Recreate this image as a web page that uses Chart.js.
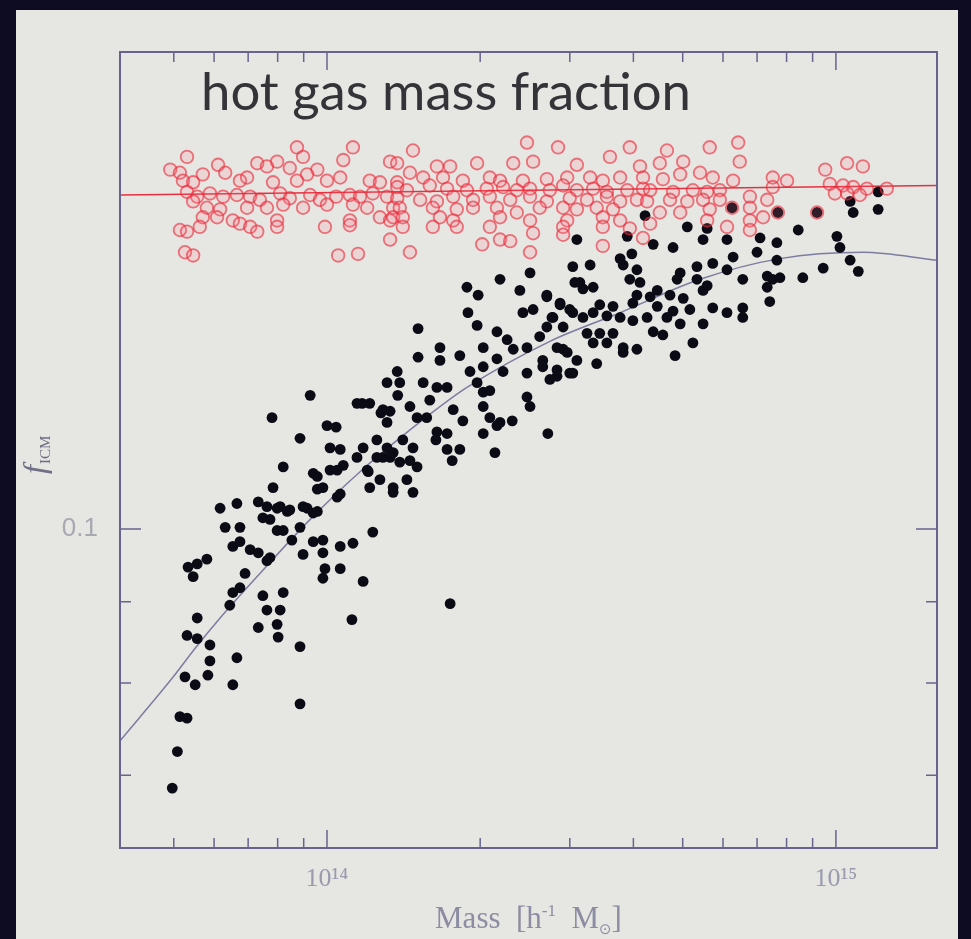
<!DOCTYPE html>
<html>
<head>
<meta charset="utf-8">
<title>hot gas mass fraction</title>
<script src="https://cdn.jsdelivr.net/npm/chart.js@4.4.1/dist/chart.umd.min.js"></script>
<style>
    html, body { margin: 0; padding: 0; background: #0e0c22; }
    #wrap { width: 971px; height: 939px; }
</style>
</head>
<body>
<div id="wrap"><canvas id="chart" width="971" height="939"></canvas></div>
<script>
// values, as [log10 M, log10 f]
var openPoints = [
    [13.725,-0.766],[13.941,-0.760],[14.051,-0.760],[13.692,-0.774],[13.711,-0.776],
    [13.786,-0.771],[13.800,-0.776],[13.863,-0.770],[13.882,-0.772],[13.902,-0.769],
    [13.953,-0.766],[13.927,-0.773],[13.981,-0.774],[14.032,-0.768],[14.124,-0.769],
    [13.717,-0.781],[13.737,-0.782],[13.756,-0.777],[13.829,-0.781],[13.843,-0.779],
    [13.894,-0.782],[13.941,-0.781],[13.961,-0.777],[14.000,-0.781],[14.026,-0.779],
    [14.084,-0.781],[14.104,-0.782],[14.138,-0.782],[13.725,-0.788],[13.745,-0.791],
    [13.770,-0.789],[13.796,-0.791],[13.823,-0.790],[13.849,-0.791],[13.868,-0.793],
    [13.908,-0.789],[13.927,-0.792],[13.967,-0.790],[13.986,-0.793],[14.018,-0.791],
    [14.045,-0.790],[14.065,-0.791],[14.090,-0.789],[14.118,-0.791],[13.737,-0.794],
    [13.764,-0.798],[13.790,-0.799],[13.843,-0.798],[13.882,-0.798],[13.914,-0.796],
    [13.953,-0.798],[14.000,-0.796],[14.051,-0.796],[14.079,-0.798],[14.130,-0.798],
    [13.756,-0.804],[13.784,-0.804],[13.815,-0.806],[13.829,-0.808],[13.902,-0.806],
    [14.045,-0.806],[14.104,-0.804],[14.124,-0.806],[13.711,-0.812],[13.725,-0.813],
    [13.750,-0.810],[13.849,-0.810],[13.863,-0.813],[13.902,-0.810],[13.996,-0.810],
    [14.045,-0.809],[14.124,-0.818],[13.721,-0.826],[13.737,-0.828],[14.022,-0.828],
    [14.061,-0.827],[14.399,-0.826],
    [14.393,-0.757],[14.454,-0.760],[14.595,-0.760],[14.169,-0.762],[14.556,-0.766],
    [14.295,-0.770],[14.366,-0.770],[14.405,-0.769],[14.216,-0.772],[14.242,-0.772],
    [14.491,-0.771],[14.615,-0.772],[14.138,-0.770],[14.163,-0.776],[14.189,-0.779],
    [14.228,-0.779],[14.267,-0.781],[14.320,-0.779],[14.340,-0.781],[14.385,-0.781],
    [14.432,-0.780],[14.472,-0.779],[14.517,-0.779],[14.542,-0.781],[14.576,-0.779],
    [14.138,-0.785],[14.157,-0.787],[14.202,-0.784],[14.236,-0.786],[14.275,-0.787],
    [14.314,-0.786],[14.346,-0.785],[14.373,-0.787],[14.399,-0.786],[14.438,-0.787],
    [14.464,-0.784],[14.491,-0.787],[14.523,-0.786],[14.550,-0.788],[14.590,-0.787],
    [14.621,-0.786],[14.138,-0.792],[14.183,-0.793],[14.216,-0.794],[14.248,-0.791],
    [14.287,-0.793],[14.320,-0.791],[14.360,-0.793],[14.399,-0.791],[14.432,-0.794],
    [14.477,-0.792],[14.511,-0.793],[14.550,-0.791],[14.576,-0.794],[14.609,-0.793],
    [14.143,-0.798],[14.208,-0.798],[14.255,-0.799],[14.287,-0.798],[14.334,-0.798],
    [14.373,-0.801],[14.418,-0.798],[14.464,-0.798],[14.491,-0.799],[14.530,-0.798],
    [14.562,-0.799],[14.130,-0.804],[14.149,-0.804],[14.222,-0.804],[14.248,-0.806],
    [14.340,-0.804],[14.399,-0.806],[14.472,-0.806],[14.542,-0.804],[14.576,-0.806],
    [14.149,-0.810],[14.208,-0.810],[14.255,-0.810],[14.320,-0.810],[14.464,-0.810],
    [14.542,-0.810],[14.595,-0.811],[14.405,-0.814],[14.464,-0.815],[14.340,-0.818],
    [14.305,-0.821],[14.360,-0.819],[14.163,-0.826],[14.542,-0.822],[14.621,-0.817],
    [14.668,-0.762],[14.752,-0.760],[14.808,-0.757],[14.654,-0.770],[14.700,-0.769],
    [14.811,-0.769],[14.979,-0.774],[15.022,-0.770],[15.053,-0.772],[14.621,-0.779],
    [14.660,-0.780],[14.694,-0.777],[14.733,-0.776],[14.758,-0.779],[14.798,-0.781],
    [14.876,-0.779],[14.904,-0.781],[14.635,-0.787],[14.680,-0.788],[14.719,-0.787],
    [14.747,-0.788],[14.772,-0.787],[14.876,-0.785],[14.988,-0.783],[15.014,-0.784],
    [15.034,-0.785],[15.061,-0.786],[15.100,-0.786],[14.629,-0.794],[14.674,-0.793],
    [14.708,-0.794],[14.739,-0.793],[14.772,-0.793],[14.831,-0.791],[14.865,-0.793],
    [14.998,-0.789],[15.022,-0.789],[15.047,-0.790],[14.654,-0.801],[14.694,-0.801],
    [14.752,-0.799],[14.831,-0.798],[14.635,-0.808],[14.747,-0.806],[14.831,-0.806],
    [14.857,-0.804],[14.786,-0.810],[14.831,-0.812],[14.796,-0.798],[14.963,-0.801],
    [14.886,-0.801]
];

var filledPoints = [
    [13.892,-0.930],[13.947,-0.943],[14.000,-0.935],[14.069,-0.921],[14.110,-0.925],
    [13.914,-0.961],[14.006,-0.949],[14.071,-0.949],[14.098,-0.944],[14.110,-0.955],
    [14.130,-0.952],[14.081,-0.964],[13.981,-0.967],[14.006,-0.963],[14.032,-0.960],
    [13.894,-0.974],[13.992,-0.974],[14.084,-0.974],[14.130,-0.977],[13.790,-0.987],
    [13.823,-0.984],[13.865,-0.983],[13.882,-0.986],[13.902,-0.987],[13.922,-0.989],
    [13.961,-0.987],[13.981,-0.989],[14.020,-0.980],[13.874,-0.993],[13.800,-0.999],
    [13.829,-0.999],[13.902,-1.001],[13.914,-1.001],[13.947,-0.999],[13.931,-1.007],
    [13.973,-1.008],[13.992,-1.007],[14.026,-1.011],[14.051,-1.009],[14.090,-1.002],
    [13.815,-1.011],[13.829,-1.008],[13.849,-1.013],[13.865,-1.015],[13.888,-1.018],
    [13.882,-1.020],[13.953,-1.016],[13.992,-1.015],[13.727,-1.024],[13.745,-1.022],
    [13.764,-1.019],[13.737,-1.030],[13.839,-1.028],[13.996,-1.025],[14.026,-1.025],
    [13.992,-1.031],[14.071,-1.033],[13.829,-1.037],[13.815,-1.040],[13.809,-1.048],
    [13.874,-1.042],[13.914,-1.040],[13.882,-1.051],[13.908,-1.051],[13.745,-1.056],
    [13.902,-1.060],[13.865,-1.062],[14.049,-1.057],[13.725,-1.067],[13.745,-1.069],
    [13.770,-1.073],[13.904,-1.068],[13.947,-1.074],[13.770,-1.083],[13.823,-1.081],
    [13.721,-1.093],[13.741,-1.098],[13.766,-1.092],[13.815,-1.098],[13.711,-1.118],
    [13.725,-1.119],[13.947,-1.110],[13.706,-1.140],[13.696,-1.163],[14.242,-1.047],
    [14.340,-0.843],[14.399,-0.839],[14.483,-0.835],[14.275,-0.848],[14.297,-0.853],
    [14.379,-0.850],[14.432,-0.853],[14.458,-0.858],[14.487,-0.845],[14.277,-0.864],
    [14.295,-0.872],[14.385,-0.864],[14.405,-0.862],[14.442,-0.867],[14.477,-0.862],
    [14.179,-0.874],[14.334,-0.876],[14.354,-0.881],[14.307,-0.886],[14.393,-0.886],
    [14.418,-0.879],[14.464,-0.887],[14.222,-0.886],[14.261,-0.891],[14.179,-0.892],
    [14.222,-0.894],[14.334,-0.893],[14.366,-0.887],[14.281,-0.901],[14.307,-0.898],
    [14.346,-0.901],[14.393,-0.902],[14.424,-0.898],[14.452,-0.904],[14.477,-0.902],
    [14.138,-0.901],[14.118,-0.908],[14.143,-0.908],[14.189,-0.908],[14.216,-0.911],
    [14.236,-0.911],[14.295,-0.908],[14.307,-0.914],[14.320,-0.913],[14.393,-0.917],
    [14.399,-0.923],[14.139,-0.916],[14.202,-0.919],[14.059,-0.921],[14.084,-0.921],
    [14.163,-0.923],[14.106,-0.927],[14.124,-0.926],[14.177,-0.930],[14.196,-0.930],
    [14.248,-0.925],[14.267,-0.932],[14.307,-0.923],[14.320,-0.930],[14.340,-0.933],
    [14.364,-0.932],[13.967,-0.916],[14.018,-0.936],[14.118,-0.933],[14.026,-0.950],
    [14.118,-0.949],[14.149,-0.944],[14.169,-0.949],[14.216,-0.939],[14.236,-0.940],
    [14.214,-0.944],[14.236,-0.950],[14.261,-0.950],[14.246,-0.957],[14.307,-0.940],
    [14.334,-0.935],[14.330,-0.952],[14.434,-0.940],[14.059,-0.955],[14.098,-0.955],
    [14.124,-0.955],[14.143,-0.958],[14.163,-0.957],[14.177,-0.961],[13.973,-0.965],
    [14.020,-0.963],[14.079,-0.963],[14.104,-0.969],[14.130,-0.974],[14.157,-0.969],
    [14.169,-0.977],[13.981,-0.975],[14.026,-0.978],[13.908,-0.986],[13.927,-0.988],
    [13.953,-0.986],[13.973,-0.990],[13.888,-0.994],
    [15.083,-0.788],[15.028,-0.794],[15.083,-0.799],[15.034,-0.801],[14.796,-0.798],
    [14.963,-0.801],[14.886,-0.801],[14.625,-0.803],[14.926,-0.812],[14.491,-0.818],
    [14.590,-0.816],[14.708,-0.810],[14.747,-0.811],[15.002,-0.816],[15.008,-0.823],
    [15.028,-0.831],[14.641,-0.821],[14.680,-0.823],[14.739,-0.818],[14.786,-0.818],
    [14.851,-0.817],[14.884,-0.820],[14.845,-0.826],[14.884,-0.831],[14.599,-0.827],
    [14.576,-0.830],[14.798,-0.829],[14.975,-0.836],[15.044,-0.838],[14.935,-0.842],
    [14.517,-0.834],[14.582,-0.834],[14.609,-0.837],[14.694,-0.839],[14.727,-0.835],
    [14.758,-0.833],[14.786,-0.837],[14.865,-0.841],[14.876,-0.843],[14.497,-0.845],
    [14.523,-0.848],[14.595,-0.843],[14.615,-0.845],[14.688,-0.843],[14.727,-0.843],
    [14.747,-0.847],[14.817,-0.843],[14.865,-0.848],[14.890,-0.842],[14.503,-0.849],
    [14.649,-0.850],[14.739,-0.850],[14.432,-0.854],[14.609,-0.853],[14.635,-0.854],
    [14.674,-0.853],[14.700,-0.855],[14.870,-0.857],[14.458,-0.859],[14.536,-0.859],
    [14.562,-0.860],[14.601,-0.858],[14.649,-0.860],[14.680,-0.863],[14.713,-0.862],
    [14.758,-0.861],[14.786,-0.864],[14.817,-0.861],[14.817,-0.867],[14.444,-0.867],
    [14.483,-0.864],[14.503,-0.867],[14.523,-0.864],[14.550,-0.866],[14.576,-0.867],
    [14.601,-0.869],[14.629,-0.867],[14.668,-0.867],[14.694,-0.871],[14.739,-0.871],
    [14.432,-0.873],[14.464,-0.873],[14.511,-0.877],[14.536,-0.877],[14.562,-0.877],
    [14.641,-0.876],[14.660,-0.878],[14.523,-0.883],[14.550,-0.883],[14.582,-0.886],
    [14.609,-0.887],[14.719,-0.883],[14.452,-0.886],[14.472,-0.889],[14.491,-0.894],
    [14.530,-0.896],[14.582,-0.889],[14.684,-0.891],[14.424,-0.894],[14.452,-0.900],
    [14.483,-0.902],[14.438,-0.906]
];

// grey fit curve and red baryon line
var fitCurve = [
    [13.594,-1.133],[13.698,-1.093],[13.741,-1.075],[13.790,-1.056],[13.874,-1.026],
    [13.967,-0.994],[14.065,-0.964],[14.202,-0.928],[14.275,-0.911],[14.438,-0.882],
    [14.576,-0.864],[14.733,-0.843],[14.890,-0.830],[15.053,-0.826],[15.198,-0.831]
];
var baryonLine = [[13.594,-0.790],[15.198,-0.784]];

var xTicks = [5e13, 6e13, 7e13, 8e13, 9e13, 1e14, 2e14, 3e14, 4e14, 5e14, 6e14, 7e14, 8e14, 9e14, 1e15];
var xTickLabels = { 1e14: '10¹⁴', 1e15: '10¹⁵' };
var yTicks = [0.07, 0.08, 0.09, 0.1];
var yTickLabels = { 0.1: '0.1' };

var plotTitle = 'hot gas mass fraction';

function toXY(list) {
    return list.map(function (p) {
        return { x: Math.pow(10, p[0]), y: Math.pow(10, p[1]) };
    });
}

function isDecade(v) {
    var l = Math.log10(v);
    return Math.abs(l - Math.round(l)) < 1e-6;
}

var slidePlugin = {
    id: 'slide',
    beforeDraw: function (chart) {
        var c = chart.ctx;
        c.save();
        c.fillStyle = '#0e0c22';
        c.fillRect(0, 0, chart.width, chart.height);
        c.fillStyle = '#e6e6e3';
        c.fillRect(16, 10, 942, 929);
        c.restore();
    },
    afterDraw: function (chart) {
        var c = chart.ctx;
        var a = chart.chartArea;
        var xs = chart.scales.x;
        var ys = chart.scales.y;
        c.save();

        // frame
        c.strokeStyle = '#66648e';
        c.lineWidth = 2;
        c.strokeRect(a.left, a.top, a.right - a.left, a.bottom - a.top);

        // ticks pointing inward, on all four sides
        c.lineWidth = 1.5;
        c.beginPath();
        xTicks.forEach(function (v) {
            var px = xs.getPixelForValue(v);
            var len = isDecade(v) ? 18 : 10;
            c.moveTo(px, a.bottom); c.lineTo(px, a.bottom - len);
            c.moveTo(px, a.top); c.lineTo(px, a.top + len);
        });
        yTicks.forEach(function (v) {
            var py = ys.getPixelForValue(v);
            var len = isDecade(v) ? 21 : 11;
            c.moveTo(a.left, py); c.lineTo(a.left + len, py);
            c.moveTo(a.right, py); c.lineTo(a.right - len, py);
        });
        c.stroke();

        // title inside the plot
        c.fillStyle = '#333338';
        c.textBaseline = 'alphabetic';
        c.font = '44px Lato';
        var w = c.measureText(plotTitle).width;
        var size = 44 * 490 / w;
        c.font = size.toFixed(1) + 'px Lato';
        c.fillText(plotTitle, a.left + 81, 110);

        // x axis title: Mass [h^-1 M_sun]
        c.fillStyle = '#8c8ca2';
        var big = '31px "Liberation Serif"';
        var small = '17px "Liberation Serif"';
        var parts = [
            { t: 'Mass  [h', f: big, dy: 0 },
            { t: '-1', f: small, dy: -12 },
            { t: '  M', f: big, dy: 0 },
            { t: '⊙', f: '15px "DejaVu Sans"', dy: 6 },
            { t: ']', f: big, dy: 0 }
        ];
        var total = 0;
        parts.forEach(function (p) { c.font = p.f; p.w = c.measureText(p.t).width; total += p.w; });
        var cx = (a.left + a.right) / 2 - total / 2;
        parts.forEach(function (p) {
            c.font = p.f;
            c.fillText(p.t, cx, 928 + p.dy);
            cx += p.w;
        });

        // y axis title: f_ICM
        c.translate(45, 474);
        c.rotate(-Math.PI / 2);
        c.fillStyle = '#6e6e84';
        c.font = 'italic 32px "Liberation Serif"';
        c.fillText('f', 0, 0);
        var fw = c.measureText('f').width;
        c.font = '15px "Liberation Serif"';
        c.fillText('ICM', fw + 1, 5);

        c.restore();
    }
};

var ctx = document.getElementById('chart').getContext('2d');
new Chart(ctx, {
    type: 'scatter',
    data: {
        datasets: [{
            label: 'open',
            data: toXY(openPoints),
            pointRadius: 6.3,
            borderWidth: 1.8,
            borderColor: 'rgba(236, 42, 56, 0.62)',
            backgroundColor: 'rgba(255, 120, 136, 0.16)'
        }, {
            label: 'filled',
            data: toXY(filledPoints),
            pointRadius: 5.4,
            borderWidth: 0,
            backgroundColor: '#0b0b16'
        }, {
            label: 'fit',
            type: 'line',
            data: toXY(fitCurve),
            showLine: true,
            pointRadius: 0,
            borderColor: '#7c7ca0',
            borderWidth: 1.5,
            cubicInterpolationMode: 'monotone',
            fill: false
        }, {
            label: 'baryon',
            type: 'line',
            data: toXY(baryonLine),
            showLine: true,
            pointRadius: 0,
            borderColor: '#e6303e',
            borderWidth: 1.6,
            fill: false
        }]
    },
    options: {
        responsive: false,
        animation: false,
        layout: { padding: { left: 0, right: 34, top: 52, bottom: 0 } },
        plugins: {
            legend: { display: false },
            tooltip: { enabled: false }
        },
        scales: {
            x: {
                type: 'logarithmic',
                min: 3.92e13,
                max: 1.58e15,
                grid: { display: false, drawTicks: false },
                border: { display: false },
                afterFit: function (s) { s.height = 91; },
                afterBuildTicks: function (s) {
                    s.ticks = xTicks.map(function (v) { return { value: v }; });
                },
                ticks: {
                    autoSkip: false,
                    maxRotation: 0,
                    padding: 16,
                    color: '#9a9aae',
                    font: { family: 'Liberation Serif', size: 26 },
                    callback: function (v) { return xTickLabels[v] || ''; }
                }
            },
            y: {
                type: 'logarithmic',
                min: 0.063,
                max: 0.1995,
                grid: { display: false, drawTicks: false },
                border: { display: false },
                afterFit: function (s) { s.width = 120; },
                afterBuildTicks: function (s) {
                    s.ticks = yTicks.map(function (v) { return { value: v }; });
                },
                ticks: {
                    autoSkip: false,
                    padding: 22,
                    color: '#a8a8b2',
                    font: { family: 'Liberation Sans', size: 26 },
                    callback: function (v) { return yTickLabels[v] || ''; }
                }
            }
        }
    },
    plugins: [slidePlugin]
});
</script>
</body>
</html>
